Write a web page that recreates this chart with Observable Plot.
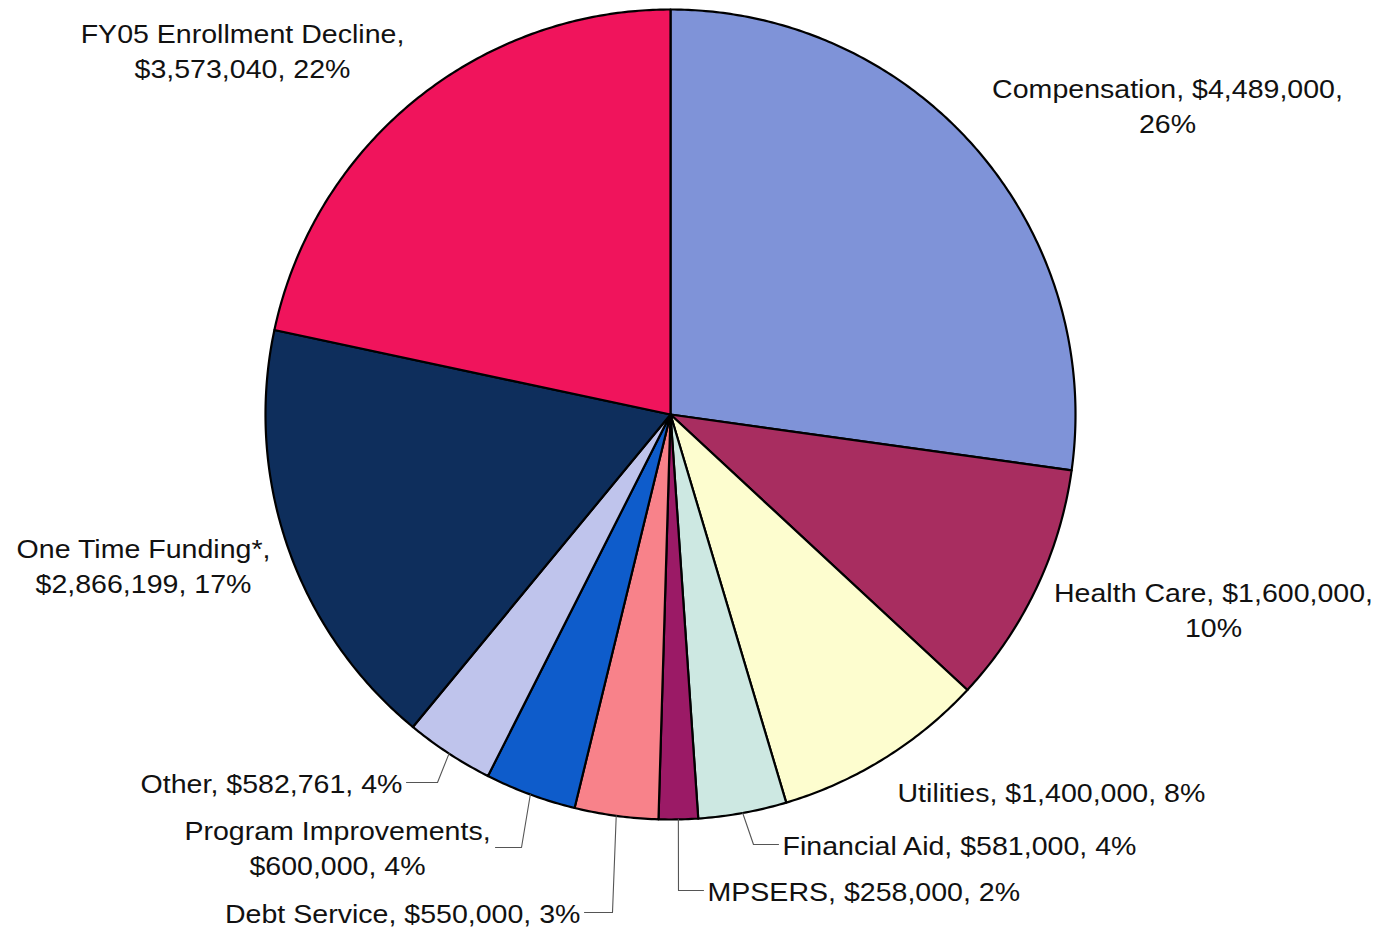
<!DOCTYPE html>
<html><head><meta charset="utf-8">
<script src="https://cdn.jsdelivr.net/npm/d3@7"></script>
<script src="https://cdn.jsdelivr.net/npm/@observablehq/plot@0.6"></script>
<style>html,body{margin:0;padding:0;background:#fff;overflow:hidden}</style>
</head><body><div id="chart"></div>
<script>
// ---- data ----
const categories = ["Compensation","Health Care","Utilities","Financial Aid","MPSERS","Debt Service","Program Improvements","Other","One Time Funding*","FY05 Enrollment Decline"];
const amounts = [4489000,1600000,1400000,581000,258000,550000,600000,582761,2866199,3573040];
const pctLabels = ["26%","10%","8%","4%","2%","3%","4%","4%","17%","22%"];
const sliceColors = ["#7f93d8","#a82d60","#fdfdcf","#cde8e2","#9b1a66","#f8828a","#0e5ccb","#bfc4ec","#0e2e5c","#f0145c"];

// ---- layout (pixels in the 1381x928 frame) ----
const W = 1381, H = 928, CX = 670, CY = 414, R = 405;
const labelLayout = [
  {x:1167, y:104, anchor:"middle", brk:"pct"},
  {x:1213, y:608, anchor:"middle", brk:"pct"},
  {x:897,  y:790, anchor:"start",  brk:"none"},
  {x:782,  y:843, anchor:"start",  brk:"none", leader:[[753,844],[778,844]]},
  {x:707,  y:889, anchor:"start",  brk:"none", leader:[[678,890],[703,890]]},
  {x:580,  y:911, anchor:"end",    brk:"none", leader:[[612,912],[584,912]]},
  {x:337,  y:846, anchor:"middle", brk:"amount", leader:[[521,847],[495,847]]},
  {x:402,  y:781, anchor:"end",    brk:"none", leader:[[437,782],[406,782]]},
  {x:143,  y:564, anchor:"middle", brk:"amount"},
  {x:242,  y:49,  anchor:"middle", brk:"amount"}
];
const ux = px => (px - CX) / R;
const uy = py => (CY - py) / R;

// ---- slices ----
const total = d3.sum(amounts);
const fmt = d3.format("$,");
let acc = 0;
const slices = categories.map((name, i) => {
  const a0 = acc / total * 2 * Math.PI;
  acc += amounts[i];
  const a1 = acc / total * 2 * Math.PI;
  return {name, value: amounts[i], a0, a1, mid: (a0 + a1) / 2, i};
});
const polyPts = [];
for (const s of slices) {
  polyPts.push({name: s.name, x: 0, y: 0});
  const n = Math.max(2, Math.ceil((s.a1 - s.a0) / (Math.PI / 360)));
  for (let k = 0; k <= n; k++) {
    const a = s.a0 + (s.a1 - s.a0) * k / n;
    polyPts.push({name: s.name, x: Math.sin(a), y: Math.cos(a)});
  }
  polyPts.push({name: s.name, x: 0, y: 0});
}

// ---- labels ----
const labels = slices.map((s, i) => {
  const L = labelLayout[i];
  const amt = fmt(s.value);
  let text;
  if (L.brk === "pct") text = `${s.name}, ${amt},\n${pctLabels[i]}`;
  else if (L.brk === "amount") text = `${s.name},\n${amt}, ${pctLabels[i]}`;
  else text = `${s.name}, ${amt}, ${pctLabels[i]}`;
  return {text, x: ux(L.x), y: uy(L.y), anchor: L.anchor};
});
const leaderPts = [];
slices.forEach((s, i) => {
  const L = labelLayout[i];
  if (!L.leader) return;
  leaderPts.push({name: s.name, x: Math.sin(s.mid), y: Math.cos(s.mid)});
  for (const [px, py] of L.leader) leaderPts.push({name: s.name, x: ux(px), y: uy(py)});
});

const font = "'Liberation Sans', Arial, Helvetica, sans-serif";
const textOpts = anchor => ({x: "x", y: "y", text: "text", textAnchor: anchor, lineAnchor: "middle",
  fontSize: 25.5, lineHeight: 1.37, fill: "#111", fontFamily: font});

const chart = Plot.plot({
  width: W, height: H,
  margin: 0,
  style: {background: "#fff", fontFamily: font},
  x: {domain: [ux(0), ux(W)], axis: null},
  y: {domain: [uy(H), uy(0)], axis: null},
  color: {domain: categories, range: sliceColors},
  marks: [
    Plot.line(polyPts, {x: "x", y: "y", z: "name", fill: "name", stroke: "#000", strokeWidth: 2.2, strokeLinejoin: "round", curve: "linear"}),
    Plot.line(leaderPts, {x: "x", y: "y", z: "name", stroke: "#555", strokeWidth: 1.1, curve: "linear"}),
    Plot.text(labels.filter(d => d.anchor === "middle"), textOpts("middle")),
    Plot.text(labels.filter(d => d.anchor === "start"), textOpts("start")),
    Plot.text(labels.filter(d => d.anchor === "end"), textOpts("end"))
  ]
});
// widen label glyphs slightly to match the reference typeface proportions
chart.querySelectorAll('g[aria-label="text"] text').forEach(t => {
  const tr = t.getAttribute("transform") || "";
  t.setAttribute("transform", tr + " scale(1.12,1)");
});
document.getElementById("chart").appendChild(chart);
</script>
</body></html>
